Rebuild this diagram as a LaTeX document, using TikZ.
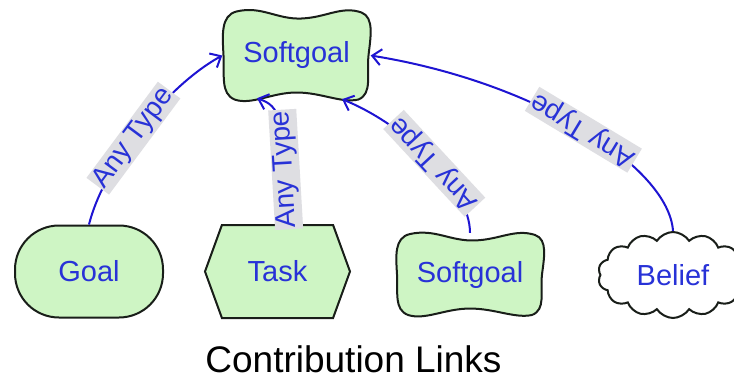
\documentclass[tikz,border=0pt]{standalone}
\usepackage{fontspec}
\setmainfont{Liberation Sans}
\usetikzlibrary{shapes.symbols,arrows.meta}

\definecolor{sgfill}{RGB}{206,245,196}
\definecolor{linkblue}{RGB}{30,20,210}
\definecolor{txtblue}{RGB}{40,50,215}
\definecolor{lblgray}{RGB}{222,222,226}
\definecolor{outline}{RGB}{25,30,25}

\tikzset{
  elem/.style={font=\fontsize{29}{31}\selectfont, text=txtblue, inner sep=0pt},
  goalbox/.style={elem, draw=outline, line width=2pt, fill=sgfill,
    rounded corners=44pt, minimum width=148pt, minimum height=92pt},
  taskbox/.style={elem, shape=signal, signal to=east and west,
    signal pointer angle=140, draw=outline, line width=2pt, fill=sgfill,
    minimum width=145pt, minimum height=93pt},
  beliefbox/.style={elem, shape=cloud, cloud puffs=14, cloud puff arc=115,
    cloud ignores aspect, draw=outline, line width=2pt, fill=white,
    minimum width=150pt, minimum height=86pt},
  sgholder/.style={elem, minimum width=148pt, minimum height=91pt},
  link/.style={draw=linkblue, line width=2pt,
    -{Straight Barb[length=9pt,width=16pt,line width=2pt]}},
  lbl/.style={font=\fontsize{28}{30}\selectfont, text=txtblue, fill=lblgray,
    inner sep=1.5pt, sloped, allow upside down},
  softgoal shape/.pic={
    \draw[draw=outline, line width=2pt, fill=sgfill]
      (-60,44) .. controls (-35,50) and (-20,36) .. (5,37)
      .. controls (30,38) and (45,50) .. (65,43)
      .. controls (78,38) and (74,18) .. (72,0)
      .. controls (70,-20) and (76,-38) .. (62,-44)
      .. controls (45,-48) and (25,-37) .. (0,-37)
      .. controls (-25,-37) and (-45,-50) .. (-62,-44)
      .. controls (-76,-38) and (-72,-20) .. (-73,0)
      .. controls (-74,20) and (-76,40) .. (-60,44) -- cycle;
  }
}

\begin{document}
\begin{tikzpicture}[x=1pt, y=1pt]
\useasboundingbox[fill=white] (0,0) rectangle (734,-380);

% target softgoal
\coordinate (sgtopc) at (296.5,-55.5);
\pic at (sgtopc) {softgoal shape};
\node[sgholder] (sgtop) at (sgtopc) {Softgoal};

% contributing elements
\node[goalbox] (goal) at (89,-271.5) {Goal};
\node[taskbox] (task) at (277.5,-271.5) {Task};
\coordinate (sglowc) at (470,-274.5);
\pic[yscale=0.92] at (sglowc) {softgoal shape};
\node[sgholder, minimum height=83pt] (sglow) at (sglowc) {Softgoal};
\node[beliefbox] (belief) at (673,-275) {Belief};

% contribution links
\draw[link] (goal.north) .. controls +(15,60) and +(-55,-30) .. (sgtop.west)
  node[lbl, pos=0.45] {Any Type};
\draw[link] ([xshift=10pt]task.north) .. controls +(-2,110) and +(22,-8)
  .. ([xshift=-39.5pt, yshift=3pt]sgtop.south)
  node[lbl, pos=0.2] {Any Type};
\draw[link] (sglow.north) .. controls +(0,45) and +(64,-26)
  .. ([xshift=45.5pt, yshift=2pt]sgtop.south)
  node[lbl, pos=0.47] {Any Type};
\draw[link] (belief.north) .. controls +(-4,63) and +(168,-27) .. (sgtop.east)
  node[lbl, pos=0.5] {Any Type};

% caption
\node[font=\fontsize{37}{40}\selectfont, text=black, anchor=base, inner sep=0pt]
  (caption) at (353.5,-372) {Contribution Links};
\end{tikzpicture}
\end{document}
